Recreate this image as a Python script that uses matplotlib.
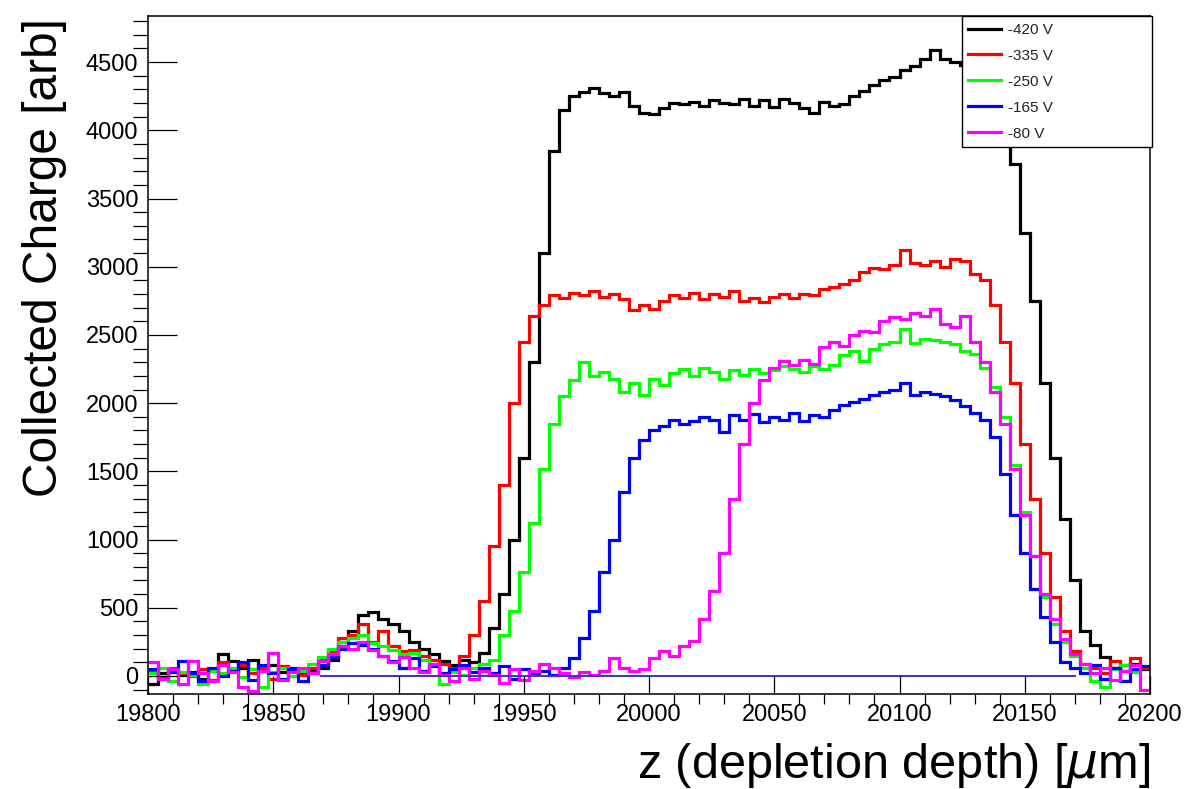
import numpy as np
import matplotlib
matplotlib.use('Agg')
import matplotlib.pyplot as plt
from matplotlib.ticker import MultipleLocator

plt.rcParams['font.family'] = ['Liberation Sans', 'DejaVu Sans']

# histogram binning: 4 um bins from 19800 to 20200
z_lo, z_hi, bin_w = 19800, 20200, 4
labels = ['-420 V', '-335 V', '-250 V', '-165 V', '-80 V']
colors = ['#000000', '#ff0000', '#00ff00', '#0000ff', '#ff00ff']

q420 = [-60, 20, 40, 10, 30, -20, 50, 160, 110, 60,
        120, 40, 80, 30, 60, 20, 50, 60, 120, 250,
        330, 450, 470, 420, 380, 330, 250, 200, 160, 110,
        80, 120, 100, 170, 350, 600, 1000, 1600, 2300, 3100,
        3850, 4150, 4250, 4280, 4310, 4270, 4250, 4280, 4180, 4130,
        4120, 4160, 4200, 4190, 4210, 4180, 4220, 4200, 4190, 4230,
        4180, 4220, 4170, 4230, 4200, 4160, 4130, 4210, 4180, 4190,
        4250, 4290, 4330, 4370, 4390, 4440, 4470, 4520, 4590, 4520,
        4500, 4480, 4450, 4400, 4250, 4100, 3750, 3250, 2750, 2150,
        1600, 1150, 700, 330, 230, 140, 60, 80, 90, 50]

q335 = [40, -10, 60, 20, 0, 50, -30, 100, 40, 80,
        20, 60, -20, 70, 40, 10, 60, 120, 180, 280,
        300, 380, 250, 330, 220, 180, 190, 150, 120, 90,
        60, 150, 300, 550, 950, 1400, 2000, 2450, 2640, 2720,
        2790, 2770, 2810, 2790, 2820, 2780, 2800, 2760, 2680, 2720,
        2690, 2750, 2790, 2770, 2810, 2760, 2800, 2780, 2820, 2750,
        2770, 2740, 2780, 2800, 2770, 2800, 2790, 2840, 2850, 2870,
        2900, 2960, 2990, 2980, 3010, 3120, 3030, 3010, 3040, 3000,
        3060, 3040, 2950, 2900, 2720, 2450, 2150, 1700, 1300, 900,
        580, 330, 180, 90, 60, 20, 110, 40, 130, 60]

q250 = [20, 60, -40, 30, 10, -60, 40, 20, 60, -10,
        50, -80, 30, 60, 0, 40, 90, 140, 200, 250,
        280, 300, 240, 220, 190, 160, 170, 120, 80, -60,
        30, 10, 60, 90, 120, 300, 480, 760, 1120, 1520,
        1850, 2050, 2170, 2300, 2200, 2230, 2180, 2080, 2150, 2060,
        2180, 2130, 2220, 2250, 2200, 2260, 2230, 2180, 2240, 2210,
        2250, 2220, 2240, 2270, 2250, 2230, 2270, 2250, 2280, 2350,
        2380, 2310, 2400, 2430, 2450, 2540, 2440, 2470, 2460, 2450,
        2430, 2380, 2360, 2260, 2120, 1900, 1550, 1200, 880, 580,
        380, 250, 150, 60, -40, -80, 50, 80, 30, 70]

q165 = [50, -20, 30, 110, 20, -40, 60, 0, 40, 100,
        -30, 80, 20, -20, 50, -40, 30, 80, 140, 200,
        240, 230, 200, 150, 110, 60, 130, 40, 70, 20,
        50, 80, 30, 60, 20, 70, -20, 50, 20, 40,
        10, 60, 130, 280, 480, 760, 1000, 1350, 1600, 1730,
        1800, 1830, 1880, 1850, 1870, 1900, 1880, 1790, 1910, 1880,
        1920, 1860, 1900, 1880, 1930, 1870, 1910, 1900, 1950, 1990,
        2010, 2030, 2060, 2080, 2100, 2150, 2060, 2080, 2070, 2050,
        2020, 1980, 1930, 1880, 1750, 1480, 1180, 900, 640, 430,
        250, 100, 60, 20, 80, -20, 60, -40, 50, 70]

q80 = [100, -20, 50, -60, 110, 20, -40, 80, 30, -80,
       -110, 40, 170, -30, 30, 60, 20, 110, 160, 220,
       200, 250, 190, 150, 100, 140, 60, 30, 90, 10,
       -40, 60, -20, 40, 10, -50, 50, -30, 40, 90,
       60, 20, -10, 30, 10, 40, 130, 60, 40, 50,
       130, 180, 150, 220, 260, 420, 620, 900, 1300, 1700,
       2000, 2170, 2260, 2310, 2280, 2320, 2290, 2410, 2450, 2420,
       2500, 2530, 2520, 2600, 2630, 2620, 2660, 2640, 2690, 2580,
       2560, 2640, 2450, 2300, 2080, 1850, 1520, 1180, 880, 600,
       420, 270, 160, 90, 20, 60, -30, 40, 80, -100]

# zero reference line range
zero_lo, zero_hi = 19869, 20170

edges = np.arange(z_lo, z_hi + bin_w, bin_w)
series = [q420, q335, q250, q165, q80]

fig = plt.figure(figsize=(11.84, 7.89), dpi=100)
ax = fig.add_axes([148/1184, 1-694/789, 1002/1184, 678/789])

ax.plot([zero_lo, zero_hi], [0, 0], color='#3535c0', lw=1.4, zorder=1.5)
for vals, col, lab in zip(series, colors, labels):
    ax.stairs(vals, edges, color=col, lw=2.3, label=lab, baseline=None)

ax.set_xlim(z_lo, z_hi)
ax.set_ylim(-132, 4838)
ax.xaxis.set_major_locator(MultipleLocator(50))
ax.xaxis.set_minor_locator(MultipleLocator(10))
ax.yaxis.set_major_locator(MultipleLocator(500))
ax.yaxis.set_minor_locator(MultipleLocator(100))
ax.tick_params(axis='both', direction='in', labelsize=17, width=0.9, top=False, right=False)
ax.tick_params(axis='x', which='major', length=13, pad=7)
ax.tick_params(axis='x', which='minor', length=7, width=0.9)
ax.tick_params(axis='y', which='major', length=21, pad=7)
ax.tick_params(axis='y', which='minor', length=10.5, width=0.9)
for s in ax.spines.values():
    s.set_linewidth(1.1)

leg = ax.legend(loc='upper left', bbox_to_anchor=(0.812, 0.8127, 0.1896, 0.1873),
                mode='expand', borderaxespad=0, fontsize=11, handlelength=2.1,
                handletextpad=0.5, labelspacing=0.78, borderpad=0.45,
                fancybox=False, edgecolor='black', framealpha=1)
leg.get_frame().set_linewidth(1.0)
for h in leg.get_lines():
    h.set_linewidth(2.3)
for t in leg.get_texts():
    t.set_color('#222222')

fig.text(45/1184, 1-18/789, 'Collected Charge [arb]', rotation=90, ha='center', va='top', fontsize=34.5)
fig.text(1150/1184, 1-766/789, r'z (depletion depth) [$\mu$m]', ha='right', va='center', fontsize=35)

fig.savefig('out.png', dpi=100)
